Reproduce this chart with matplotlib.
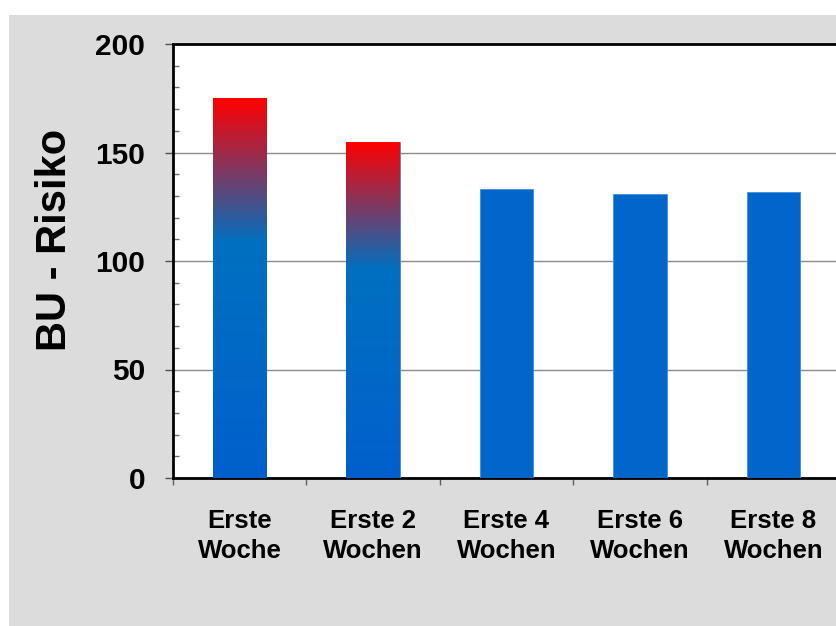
import numpy as np
import matplotlib
matplotlib.use("Agg")
import matplotlib.pyplot as plt
from matplotlib.patches import Rectangle
from matplotlib.colors import LinearSegmentedColormap

categories = ["Erste\nWoche", "Erste 2\nWochen", "Erste 4\nWochen", "Erste 6\nWochen", "Erste 8\nWochen"]
values = [175, 155, 133, 131, 132]
gradient = [True, True, False, False, False]
ylabel = "BU - Risiko"

plt.rcParams['font.family'] = ['Liberation Sans', 'DejaVu Sans']

W, H = 837, 626
fig = plt.figure(figsize=(W / 100, H / 100), dpi=100)
fig.patch.set_facecolor('white')
fig.patches.append(Rectangle((9 / W, 0), 1, 1 - 15 / H, transform=fig.transFigure,
                             facecolor='#dcdcdc', edgecolor='none', zorder=-10))

ax = fig.add_axes([173 / W, 1 - 478 / H, (840 - 173) / W, (478 - 44) / H])
ax.set_facecolor('white')

x = np.arange(len(values))
solid = '#0066cc'
bars = ax.bar(x, values, width=0.4, color=solid, edgecolor='#3f8fe0', linewidth=0.6, zorder=3)

cmap = LinearSegmentedColormap.from_list('rb', [(0.0, '#0060cc'), (0.62, '#0070c0'), (1.0, '#ff0000')])
grad = np.linspace(0, 1, 256).reshape(-1, 1)
for b, g in zip(bars, gradient):
    if g:
        x0 = b.get_x(); w = b.get_width(); h = b.get_height()
        im = ax.imshow(grad, cmap=cmap, origin='lower', aspect='auto',
                       extent=(x0, x0 + w, 0, h), zorder=3.5, interpolation='bilinear')
        im.set_clip_path(b)

ax.set_xlim(-0.5, 4.5)
ax.set_ylim(0, 200)

ax.set_yticks([0, 50, 100, 150, 200])
ax.set_yticks(np.arange(0, 201, 10), minor=True)
ax.yaxis.grid(True, which='major', color='#8a8a8a', linewidth=1.0, zorder=1)
ax.set_axisbelow(True)
ax.tick_params(axis='y', which='major', direction='out', length=6, width=1, color='#505050',
               labelsize=21.5, pad=14)
ax.tick_params(axis='y', which='minor', direction='in', length=4.5, width=1, color='#707070')
for lab in ax.get_yticklabels():
    lab.set_fontweight('bold')

ax.set_xticks(x)
ax.set_xticklabels(categories, fontsize=18.5, fontweight='bold', linespacing=1.33)
ax.set_xticks(np.arange(-0.5, 4.6, 1.0), minor=True)
ax.tick_params(axis='x', which='major', length=0, pad=22)
ax.tick_params(axis='x', which='minor', direction='out', length=5, width=1, color='#606060')

for s in ['left', 'bottom', 'top']:
    ax.spines[s].set_color('black')
    ax.spines[s].set_linewidth(2)
ax.spines['right'].set_visible(False)

ax.set_ylabel(ylabel, fontsize=30, fontweight='bold', va='center', ha='center')
ax.yaxis.set_label_coords((55 - 173) / 667, (478 - 240) / 434)

fig.savefig('out.png', dpi=100, facecolor=fig.get_facecolor())
